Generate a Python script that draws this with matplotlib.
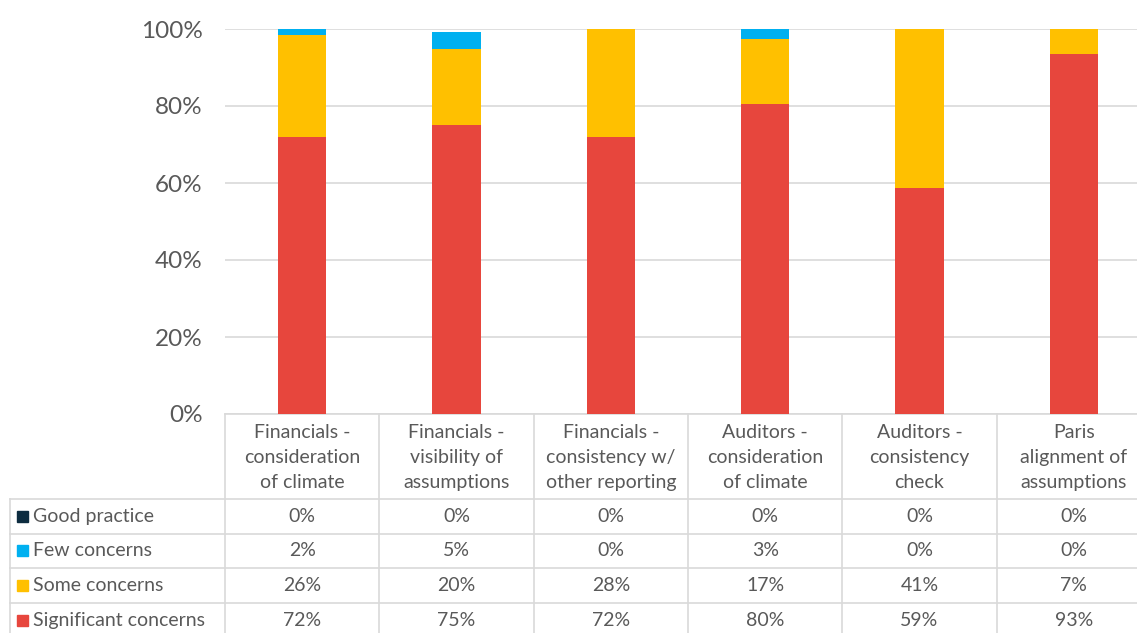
import numpy as np
import matplotlib
matplotlib.use("Agg")
import matplotlib.pyplot as plt

plt.rcParams['font.family'] = ['Lato', 'DejaVu Sans']

categories = [
    "Financials -\nconsideration\nof climate",
    "Financials -\nvisibility of\nassumptions",
    "Financials -\nconsistency w/\nother reporting",
    "Auditors -\nconsideration\nof climate",
    "Auditors -\nconsistency\ncheck",
    "Paris\nalignment of\nassumptions",
]
series_names = ["Good practice", "Few concerns", "Some concerns", "Significant concerns"]
good_practice = [0.0, 0.0, 0.0, 0.0, 0.0, 0.0]
few_concerns = [1.6, 4.6, 0.0, 2.6, 0.0, 0.0]
some_concerns = [26.4, 19.7, 28.0, 16.9, 41.3, 6.6]
significant_concerns = [72.0, 75.0, 72.0, 80.5, 58.7, 93.4]
colors = ["#0D2C40", "#00B0F0", "#FFC000", "#E7463D"]

text_col = "#595959"
line_col = "#D9D9D9"

W, H = 1137, 633
fig = plt.figure(figsize=(W / 100, H / 100), dpi=100)

# plot area in pixels (right edge runs past the image, as in the original)
x0, x1 = 225, 1151
y_top, y_axis = 29, 414
n = len(categories)
col_w = (x1 - x0) / n

ax = fig.add_axes([x0 / W, (H - y_axis) / H, (x1 - x0) / W, (y_axis - y_top) / H])
x = np.arange(n)
bw = 0.315
stack = [significant_concerns, some_concerns, few_concerns, good_practice]
stack_colors = [colors[3], colors[2], colors[1], colors[0]]
bottom = np.zeros(n)
for vals, c in zip(stack, stack_colors):
    ax.bar(x, vals, bw, bottom=bottom, color=c, zorder=3)
    bottom += np.array(vals)

ax.set_xlim(-0.5, n - 0.5)
ax.set_ylim(0, 100)
ax.set_yticks(np.arange(0, 101, 20))
ax.set_yticklabels([f"{v}%" for v in range(0, 101, 20)], fontsize=17.5, color=text_col)
ax.tick_params(axis='y', length=0, pad=16)
ax.set_xticks([])
ax.grid(axis='y', color=line_col, linewidth=1.2, zorder=0)
for s in ax.spines.values():
    s.set_visible(False)
ax.patch.set_alpha(0)

# data table drawn in pixel coordinates
tx = fig.add_axes([0, 0, 1, 1], zorder=-1)
tx.set_xlim(0, W)
tx.set_ylim(H, 0)
tx.axis('off')

header_bottom = 499
row_h = 34.6
leg_left = 10
n_rows = len(series_names)
row_edges = [header_bottom + i * row_h for i in range(n_rows + 1)]
lw = 1.2

# horizontal lines
tx.plot([x0, x1], [y_axis, y_axis], color=line_col, lw=lw)
for yy in row_edges:
    tx.plot([leg_left, x1], [yy, yy], color=line_col, lw=lw)
# vertical lines
for i in range(n + 1):
    xx = x0 + i * col_w
    tx.plot([xx, xx], [y_axis, H + 10], color=line_col, lw=lw)
tx.plot([leg_left, leg_left], [header_bottom, H + 10], color=line_col, lw=lw)

fs = 14
# header labels
for i, cat in enumerate(categories):
    tx.text(x0 + (i + 0.5) * col_w, (y_axis + header_bottom) / 2 + 1, cat,
            ha='center', va='center', fontsize=fs, color=text_col, linespacing=1.6)

# rows: top row is Good practice
row_vals = [good_practice, few_concerns, some_concerns, significant_concerns]
for r, (name, vals, c) in enumerate(zip(series_names, row_vals, colors)):
    yc = row_edges[r] + row_h / 2
    tx.add_patch(plt.Rectangle((17, yc - 5.5), 11, 11, color=c))
    tx.text(33, yc, name, ha='left', va='center', fontsize=fs, color=text_col)
    for i, v in enumerate(vals):
        tx.text(x0 + (i + 0.5) * col_w, yc, f"{v:.0f}%", ha='center', va='center',
                fontsize=fs, color=text_col)

fig.savefig("out.png", dpi=100)
